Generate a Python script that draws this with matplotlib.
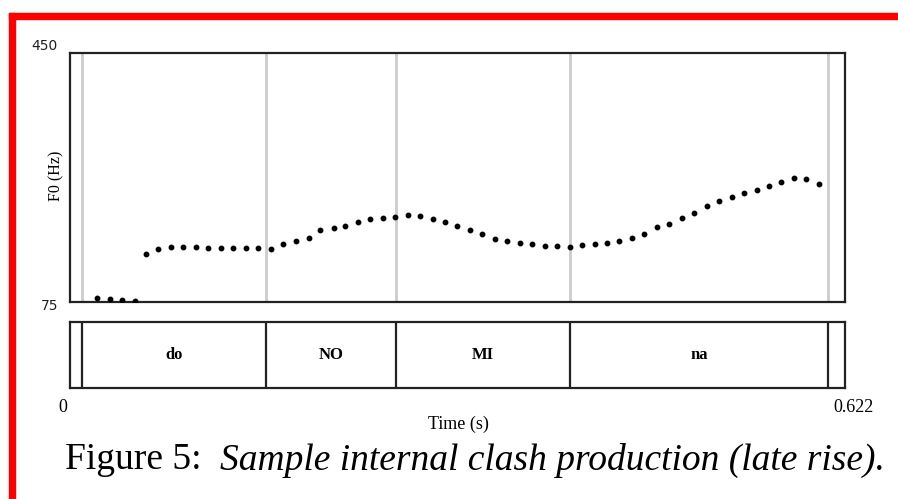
import matplotlib
matplotlib.use("Agg")
import matplotlib.pyplot as plt
from matplotlib.patches import Rectangle

# ---- data ----
times = [0.022, 0.032, 0.042, 0.052, 0.061, 0.071, 0.081, 0.091, 0.101, 0.111,
         0.121, 0.131, 0.141, 0.151, 0.161, 0.171, 0.181, 0.192, 0.201, 0.212,
         0.221, 0.231, 0.241, 0.251, 0.261, 0.271, 0.281, 0.291, 0.301, 0.311,
         0.321, 0.331, 0.341, 0.351, 0.361, 0.371, 0.381, 0.391, 0.401, 0.411,
         0.421, 0.431, 0.441, 0.451, 0.461, 0.471, 0.481, 0.491, 0.501, 0.511,
         0.521, 0.531, 0.541, 0.551, 0.561, 0.571, 0.581, 0.591, 0.601]
f0 = [81.0, 79.1, 77.6, 76.5, 147.7, 155.3, 158.3, 158.3, 157.8, 155.9,
      155.9, 156.3, 156.8, 155.9, 155.3, 162.8, 166.9, 171.8, 183.9, 186.4,
      189.9, 195.5, 199.5, 202.0, 202.6, 205.6, 204.5, 200.0, 195.0, 189.5,
      183.9, 177.4, 169.9, 166.9, 164.3, 161.9, 159.8, 159.3, 158.3, 160.8,
      162.3, 163.9, 166.9, 171.4, 177.4, 187.5, 192.5, 201.0, 208.6, 219.1,
      227.6, 233.6, 239.6, 244.1, 249.2, 255.7, 262.2, 260.2, 253.2]
boundaries = [0.0094, 0.157, 0.262, 0.401, 0.6086]
syllables = ["do", "NO", "MI", "na"]
t_max = 0.622
f_min, f_max = 75, 450

W, H = 898, 499
fig = plt.figure(figsize=(W / 100, H / 100), dpi=100)

def fx(px):
    return px / W

def fy(py):
    return 1 - py / H

# red frame
fig.patches.append(Rectangle((fx(9), fy(19)), 1 - fx(9), fy(13) - fy(19),
                             transform=fig.transFigure, color="#ff0000", zorder=0))
fig.patches.append(Rectangle((fx(9), 0), fx(15) - fx(9), fy(13),
                             transform=fig.transFigure, color="#ff0000", zorder=0))

L, R = 70, 845
# pitch panel
ax = fig.add_axes([fx(L), fy(302), fx(R) - fx(L), fy(53) - fy(302)])
ax.set_xlim(0, t_max)
ax.set_ylim(f_min, f_max)
for b in boundaries:
    ax.axvline(b, color="#cccccc", lw=2.0, zorder=1)
ax.plot(times, f0, linestyle="none", marker="o", ms=3.2, color="black", zorder=3)
ax.set_xticks([])
ax.set_yticks([])
for s in ax.spines.values():
    s.set_linewidth(1.6)
    s.set_color("#222222")

# tier panel
ax2 = fig.add_axes([fx(L), fy(388), fx(R) - fx(L), fy(322) - fy(388)])
ax2.set_xlim(0, t_max)
ax2.set_ylim(0, 1)
for b in boundaries:
    ax2.axvline(b, color="#222222", lw=1.6)
for i, lab in enumerate(syllables):
    mid = (boundaries[i] + boundaries[i + 1]) / 2
    ax2.text(mid, 0.5, lab, ha="center", va="center", fontsize=12,
             fontweight="bold", family="Liberation Serif")
ax2.set_xticks([])
ax2.set_yticks([])
for s in ax2.spines.values():
    s.set_linewidth(1.6)
    s.set_color("#222222")

# labels
fig.text(fx(58), fy(46), "450", ha="right", va="center", fontsize=10,
         family="DejaVu Sans", color="#222222")
fig.text(fx(58), fy(306), "75", ha="right", va="center", fontsize=10,
         family="DejaVu Sans", color="#222222")
fig.text(fx(56), fy(176), "F0 (Hz)", ha="center", va="center", rotation=90,
         fontsize=11.5, family="Liberation Serif")
fig.text(fx(63), fy(407), "0", ha="center", va="center", fontsize=13,
         family="Liberation Serif")
fig.text(fx(853), fy(407), "0.622", ha="center", va="center", fontsize=13,
         family="Liberation Serif")
fig.text(fx(458), fy(424), "Time (s)", ha="center", va="center", fontsize=13,
         family="Liberation Serif")

# caption
cap1 = fig.text(fx(65), fy(460), "Figure 5:  ", ha="left", va="center",
                fontsize=27, family="Liberation Serif")
fig.canvas.draw()
bb = cap1.get_window_extent()
fig.text(bb.x1 / W, fy(460), "Sample internal clash production (late rise).",
         ha="left", va="center", fontsize=27, style="italic",
         family="Liberation Serif")

fig.savefig("out.png", dpi=100)
